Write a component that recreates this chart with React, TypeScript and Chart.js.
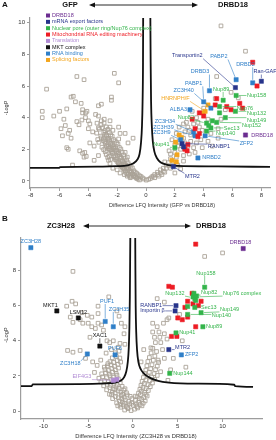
import { useEffect, useRef } from "react";
import { Chart, registerables } from "chart.js";

Chart.register(...registerables);

type Pt = [number, number];
// [text, x, y, align, category, pointX, pointY]
type Note = [string, number, number, "left" | "center" | "right", number, number?, number?];

const SANS = '"Liberation Sans", Arial, Helvetica, sans-serif';

// ---- categories ----
const categoryNames = [
  "DRBD18",
  "mRNA export factors",
  "Nuclear pore (outer ring/Nup76 complex)",
  "Mitochondrial RNA editing machinery",
  "Translation",
  "MKT complex",
  "RNA binding",
  "Splicing factors",
];
const categoryColors = ["#6b2d90", "#27348b", "#33b44a", "#ed1c24", "#b08ad4", "#111111", "#2f7fc8", "#f3a51c"];
const DRBD = 0, EXPORT = 1, PORE = 2, MITO = 3, TRANSL = 4, MKT = 5, RNA = 6, SPLICE = 7;
const GRAY = "#aaa397";
const AXIS = "#9d9d9d";

// ---- panel A: GFP vs DRBD18 ----
const aXTicks = [-8, -6, -4, -2, 0, 2, 4, 6, 8];
const aYTicks = [0, 2, 4, 6, 8, 10];

const aGray: Pt[] = [
  [-4.8, 6.6], [-4.3, 6.4], [-6.9, 5.8], [-2.2, 6.8], [-1.9, 6.2], [-5.2, 5.3], [-5.05, 5.35], [-4.9, 5.0],
  [-4.5, 4.9], [-2.4, 5.3], [-2.4, 5.1], [-3.3, 4.75], [-3.1, 4.85], [-5.5, 4.55], [-7.2, 4.4], [-7.2, 4.0],
  [-6.0, 4.4], [-6.4, 4.1], [-5.7, 3.9], [-5.6, 3.5], [-5.9, 3.3], [-5.3, 3.2], [-5.8, 2.85], [-5.4, 3.0],
  [-5.2, 2.7], [-5.4, 2.0], [-5.5, 2.1], [-5.1, 1.0], [-4.8, 3.75], [-4.65, 3.55], [-4.45, 3.85], [-4.4, 4.3],
  [-4.1, 4.4], [-4.4, 4.5], [-4.2, 4.3], [-4.2, 4.0], [-4.0, 3.8], [-3.9, 3.6], [-4.0, 3.3], [-4.6, 1.9],
  [-4.25, 1.8], [-4.4, 1.75], [-4.3, 1.5], [-4.15, 1.55], [-3.5, 4.2], [-3.4, 3.65], [-3.3, 3.35], [-3.7, 3.1],
  [-3.3, 4.1], [-2.9, 3.9], [-3.1, 3.8], [-2.5, 3.8], [-2.5, 3.4], [-2.3, 3.2], [-1.9, 3.4], [-1.8, 3.0],
  [-1.45, 3.0], [-1.25, 2.4], [-1.9, 2.65], [-0.9, 2.7], [-1.45, 1.8], [-1.3, 1.5], [-3.6, 1.3], [-3.3, 1.6],
  [-3.9, 2.4], [-3.6, 2.2],
  [-3.42, 3.02], [-3.35, 2.61], [-3.23, 3.27], [-3.14, 2.83], [-3.27, 2.44], [-3.12, 3.55], [-3.05, 3.36],
  [-2.93, 3.07], [-3.09, 2.72], [-2.97, 2.55], [-3.06, 2.13], [-2.91, 3.66], [-2.85, 3.17], [-2.95, 2.66],
  [-2.83, 2.37], [-2.94, 1.98], [-2.76, 3.41], [-2.84, 2.96], [-2.73, 2.83], [-2.87, 2.49], [-2.74, 2.18],
  [-2.83, 1.84], [-2.65, 3.25], [-2.75, 2.9], [-2.62, 2.65], [-2.73, 2.26], [-2.61, 2.05], [-2.76, 1.67],
  [-2.55, 3.06], [-2.64, 2.69], [-2.53, 2.51], [-2.63, 2.16], [-2.51, 1.95], [-2.66, 1.48], [-2.45, 2.91],
  [-2.55, 2.58], [-2.43, 2.36], [-2.54, 2.05], [-2.42, 1.85], [-2.56, 1.55], [-2.35, 2.82], [-2.45, 2.39],
  [-2.33, 2.22], [-2.44, 1.95], [-2.32, 1.74], [-2.46, 1.36], [-2.25, 2.61], [-2.35, 2.28], [-2.23, 2.06],
  [-2.34, 1.76], [-2.22, 1.52], [-2.15, 2.52], [-2.25, 2.15], [-2.13, 1.94], [-2.24, 1.59], [-2.12, 1.34],
  [-2.05, 2.41], [-2.15, 2.08], [-2.03, 1.85], [-2.14, 1.46], [-2.02, 1.24], [-1.95, 2.32], [-2.05, 1.95],
  [-1.93, 1.75], [-2.04, 1.38], [-1.92, 1.15], [-1.85, 2.11], [-1.95, 1.78], [-1.83, 1.55], [-1.94, 1.16],
  [-1.82, 1.01], [-1.75, 2.01], [-1.85, 1.66], [-1.73, 1.44], [-1.84, 1.09], [-1.72, 0.94], [-1.65, 1.82],
  [-1.75, 1.49], [-1.63, 1.24], [-1.74, 0.96], [-1.62, 0.82], [-1.55, 1.64], [-1.65, 1.28], [-1.53, 1.12],
  [-1.64, 0.88], [-1.52, 0.72], [-1.45, 1.45], [-1.55, 1.16], [-1.43, 1.01], [-1.54, 0.78], [-1.42, 0.64],
  [-1.35, 1.32], [-1.45, 0.99], [-1.33, 0.82], [-1.44, 0.56], [-1.25, 1.15], [-1.35, 0.85], [-1.23, 0.74],
  [-1.34, 0.46], [-1.15, 1.01], [-1.25, 0.78], [-1.13, 0.62], [-1.24, 0.41], [-1.05, 0.94], [-1.15, 0.66],
  [-1.03, 0.54], [-1.14, 0.31], [-0.95, 0.82], [-1.05, 0.58], [-0.93, 0.44], [-1.04, 0.25], [-0.85, 0.64],
  [-0.95, 0.41], [-0.83, 0.34], [-0.75, 0.55], [-0.85, 0.31], [-0.73, 0.24], [-0.65, 0.47], [-0.75, 0.26],
  [-0.63, 0.19], [-0.55, 0.39], [-0.65, 0.16], [-0.45, 0.32], [-0.55, 0.11], [-0.35, 0.27], [-0.45, 0.06],
  [-0.25, 0.19], [-0.15, 0.12], [0.02, 0.05], [0.18, 0.1],
  [-2.3, 0.8], [-2.0, 0.7], [-1.8, 0.5], [-1.5, 0.4], [-2.5, 1.1], [-2.6, 1.3], [-1.3, 0.3], [-1.1, 0.2],
  [0.3, 0.15], [0.4, 0.25], [0.5, 0.3], [0.6, 0.2], [0.6, 0.4], [0.8, 0.4], [0.8, 0.55], [1.0, 0.5],
  [1.0, 0.7], [1.2, 0.6], [1.2, 0.8], [1.4, 0.8], [1.6, 0.95], [0.9, 0.3], [1.1, 0.4], [1.3, 0.55],
  [1.4, 1.0], [1.7, 0.8], [2.1, 1.05], [1.55, 1.15], [2.4, 0.75], [2.0, 0.5],
  [1.3, 1.2], [1.7, 1.4], [2.0, 1.8], [2.2, 2.2], [2.6, 2.7], [3.0, 3.2], [3.3, 3.6], [3.5, 4.0], [2.8, 3.7],
  [4.0, 4.6], [4.5, 3.0], [5.0, 3.3], [3.4, 1.8], [2.2, 1.0], [2.6, 1.25], [1.9, 1.2], [2.1, 1.5], [2.4, 2.0],
  [3.1, 2.5], [3.8, 2.6], [2.9, 2.2], [3.7, 3.4], [3.2, 4.4], [2.7, 3.1], [1.6, 1.9], [2.3, 2.5],
  [1.8, 2.6], [2.1, 3.0], [2.3, 3.4], [2.6, 3.6], [2.9, 3.4], [3.1, 2.9], [3.5, 2.4], [3.9, 2.1], [2.6, 1.6],
  [3.0, 1.7], [3.3, 2.1], [2.7, 2.4], [1.7, 1.7], [2.0, 2.3], [3.6, 3.7], [3.9, 3.2], [4.3, 2.5], [4.6, 2.2],
  [5.0, 2.7], [4.9, 6.6], [5.2, 9.8], [6.9, 8.2], [5.9, 5.6], [6.4, 5.25], [4.8, 5.2], [5.5, 4.5], [5.2, 3.9],
  [4.3, 3.9],
];

const aDrbd18: Pt[] = [[6.9, 2.9]];
const aExport: Pt[] = [[8.0, 6.3], [6.2, 5.9], [2.5, 2.35], [2.6, 2.15], [1.9, 0.9]];
const aPore: Pt[] = [
  [5.35, 5.1], [6.25, 5.4], [5.1, 4.7], [6.2, 4.4], [5.5, 4.0], [4.9, 3.7], [4.5, 3.35], [4.2, 3.15],
  [4.2, 3.65], [4.35, 3.5], [2.0, 2.1], [5.1, 4.3], [4.6, 3.8],
];
const aMito: Pt[] = [
  [7.4, 7.5], [7.7, 6.0], [4.9, 5.2], [6.5, 4.9], [4.8, 4.8], [3.7, 4.3], [3.7, 3.0], [3.6, 2.8], [2.85, 1.9],
  [2.7, 2.0], [5.9, 4.5], [6.7, 4.6], [5.6, 4.7], [3.2, 3.9], [4.0, 4.1], [3.4, 3.3], [2.9, 2.3],
];
const aRnaBinding: Pt[] = [
  [7.4, 6.2], [6.25, 6.4], [4.4, 5.7], [4.0, 5.0], [4.5, 4.6], [3.05, 4.5], [3.3, 3.1], [3.4, 2.85],
  [2.4, 2.6], [4.1, 2.85], [3.6, 1.45],
];
const aSplicing: Pt[] = [
  [4.1, 4.4], [3.95, 4.3], [4.3, 4.8], [2.3, 2.9], [2.45, 2.75], [2.15, 1.65], [2.1, 1.2], [2.05, 2.45], [1.8, 1.3],
];

const aLeftCurve: Pt[] = [
  [-8.05, 0.82], [-6.05, 0.82], [-5.95, 0.87], [-3, 0.9], [-2, 0.93], [-1.3, 0.98], [-0.9, 1.1], [-0.6, 1.35],
  [-0.45, 1.7], [-0.35, 2.4], [-0.28, 3.5], [-0.24, 5], [-0.21, 7.5], [-0.2, 10.3],
];
const aRightCurve: Pt[] = [
  [0.3, 10.3], [0.32, 7.5], [0.35, 5], [0.4, 3.5], [0.47, 2.5], [0.58, 1.85], [0.75, 1.45], [1.0, 1.18],
  [1.4, 1.03], [2.2, 0.95], [5, 0.92], [8.6, 0.88],
];

const aNotes: Note[] = [
  ["Transportin2", 1.8, 7.9, "left", EXPORT, 6.2, 5.9],
  ["PABP2", 4.45, 7.85, "left", RNA, 6.25, 6.4],
  ["DRBD2", 6.25, 7.35, "left", RNA, 7.4, 6.2],
  ["Ran-GAP", 7.45, 6.9, "left", EXPORT, 8.0, 6.3],
  ["DRBD3", 3.1, 6.9, "left", RNA, 4.4, 5.7],
  ["PABP1", 2.7, 6.15, "left", RNA, 4.0, 5.0],
  ["Nup89", 4.65, 5.8, "left", PORE, 5.35, 5.1],
  ["ZC3H40", 1.9, 5.7, "left", RNA, 4.5, 4.6],
  ["Nup158", 7.0, 5.4, "left", PORE, 6.25, 5.4],
  ["HNRNPH/F", 1.05, 5.2, "left", SPLICE, 4.1, 4.4],
  ["ALBA3", 1.65, 4.5, "left", RNA],
  ["Nup82", 2.2, 4.0, "left", PORE, 4.2, 3.65],
  ["Nup76", 6.3, 4.6, "left", PORE, 5.1, 4.7],
  ["Nup132", 7.0, 4.25, "left", PORE, 6.2, 4.4],
  ["Nup149", 7.0, 3.85, "left", PORE, 5.5, 4.0],
  ["Nup152", 6.65, 3.5, "left", PORE, 4.9, 3.7],
  ["Sec13", 5.4, 3.3, "left", PORE, 4.5, 3.35],
  ["Nup140", 4.85, 3.0, "left", PORE, 4.2, 3.15],
  ["DRBD18", 7.3, 2.9, "left", DRBD],
  ["ZC3H34", 0.6, 3.75, "left", RNA, 3.3, 3.1],
  ["ZC3H39", 0.5, 3.4, "left", RNA, 3.4, 2.85],
  ["ZC3H9", 0.5, 3.05, "left", RNA, 2.4, 2.6],
  ["ZFP2", 6.5, 2.35, "left", RNA, 4.1, 2.85],
  ["RANBP1", 4.3, 2.15, "left", EXPORT, 2.5, 2.35],
  ["Nup41", 0.5, 2.3, "left", PORE, 2.0, 2.1],
  ["NRBD2", 3.9, 1.45, "left", RNA],
  ["MTR2", 2.7, 0.3, "left", EXPORT, 1.9, 0.9],
];

// ---- panel B: ZC3H28 vs DRBD18 ----
const bXTicks = [-10, -5, 0, 5, 10];
const bYTicks = [0, 2, 4, 6, 8];

const bGray: Pt[] = [
  // scattered on the ZC3H28 side
  [-6.7, 7.95], [-6.8, 6.25], [-6.4, 6.1], [-7.4, 5.97], [-3.9, 5.97], [-2.7, 6.5], [-1.8, 5.7], [-5.7, 5.6],
  [-5.1, 5.45], [-4.6, 5.35], [-3.9, 5.55], [-7.0, 5.35], [-6.7, 5.05], [-5.9, 5.2], [-5.6, 5.0], [-5.0, 5.0],
  [-4.6, 4.8], [-4.2, 4.7], [-3.9, 5.0], [-3.5, 4.9], [-3.3, 4.6], [-2.9, 4.0], [-2.6, 3.9], [-2.2, 4.0],
  [-1.45, 3.85], [-4.8, 4.2], [-6.7, 3.35], [-5.9, 3.45], [-7.3, 3.45], [-1.55, 5.4], [-1.3, 5.0], [-1.0, 4.4],
  [-0.9, 3.8], [-0.9, 4.8], [-4.5, 2.8], [-4.0, 2.6], [-3.6, 2.9], [-3.2, 2.5], [-2.8, 2.7], [-4.3, 2.2],
  [-5.3, 3.0], [-2.4, 3.5], [-3.0, 3.3],
  // central cloud
  [-0.93, 0.06], [-0.55, 0.14], [-0.21, 0.03], [0.17, 0.11], [0.52, 0.18], [-1.37, 0.22], [-1.08, 0.35],
  [-0.74, 0.27], [-0.38, 0.41], [0.04, 0.33], [0.43, 0.26], [0.81, 0.38], [1.14, 0.45], [-1.82, 0.47],
  [-1.51, 0.58], [-1.19, 0.52], [-0.86, 0.63], [-0.47, 0.55], [-0.12, 0.71], [0.29, 0.62], [0.63, 0.51],
  [0.97, 0.66], [1.36, 0.58], [-2.27, 0.71], [-1.96, 0.83], [-1.63, 0.76], [-1.31, 0.89], [-0.98, 0.79],
  [-0.64, 0.92], [-0.31, 0.84], [0.46, 0.81], [0.83, 0.93], [1.21, 0.77], [1.58, 0.86],
  [-2.62, 0.96], [-2.31, 1.08], [-1.98, 1.02], [-1.67, 1.15], [-1.35, 1.07], [-1.02, 1.19], [-0.73, 1.04],
  [0.62, 1.02], [0.94, 1.13], [1.29, 1.06], [1.71, 1.17], [-2.94, 1.21], [-2.59, 1.33], [-2.23, 1.26],
  [-1.89, 1.38], [-1.54, 1.29], [-1.21, 1.41], [-0.89, 1.27], [0.77, 1.24], [1.12, 1.36], [1.47, 1.28],
  [1.93, 1.39], [-3.27, 1.44], [-2.88, 1.52], [-2.51, 1.47], [-2.14, 1.58], [-1.76, 1.49], [-1.42, 1.61],
  [0.89, 1.46], [1.26, 1.57], [1.68, 1.5], [2.17, 1.6],
  [-3.58, 1.66], [-3.16, 1.73], [-2.77, 1.68], [-2.39, 1.79], [-2.02, 1.71], [-1.63, 1.83], [1.02, 1.69],
  [1.44, 1.77], [1.87, 1.72], [2.41, 1.81], [-3.81, 1.87], [-3.37, 1.95], [-2.95, 1.9], [-2.56, 2.01],
  [-2.18, 1.93], [-1.79, 2.04], [1.16, 1.91], [1.63, 1.99], [2.09, 1.94], [2.71, 2.03], [-3.49, 2.12],
  [-3.04, 2.18], [-2.67, 2.11], [-2.27, 2.23], [-1.88, 2.15], [1.31, 2.14], [1.82, 2.21], [2.36, 2.13],
  [3.08, 2.24], [-3.12, 2.36], [-2.74, 2.31], [-2.36, 2.42], [-1.97, 2.34], [-1.61, 2.45], [1.43, 2.33],
  [1.97, 2.41], [2.52, 2.36],
  [-2.86, 2.57], [-2.44, 2.63], [-2.06, 2.55], [-1.68, 2.66], [1.55, 2.58], [2.12, 2.64], [2.71, 2.56],
  [-2.57, 2.81], [-2.15, 2.77], [-1.76, 2.88], [-1.38, 2.79], [1.66, 2.82], [2.27, 2.89], [2.86, 2.78],
  [-2.31, 3.03], [-1.86, 3.11], [-1.47, 3.02], [1.83, 3.05], [2.44, 3.13], [-1.97, 3.32], [-1.56, 3.41],
  [2.02, 3.31], [2.63, 3.39], [-1.66, 3.63], [2.21, 3.57],
  [-1.45, 0.35], [-0.15, 0.45], [0.25, 0.85], [-2.05, 1.25], [-1.25, 0.7], [0.7, 0.7], [-0.6, 0.2], [1.0, 0.3],
  [-1.7, 0.3], [-0.95, 0.45], [0.35, 0.4], [-2.4, 0.95], [-1.15, 0.95], [1.45, 0.95],
  // scattered on the DRBD18 side
  [4.2, 2.35], [3.9, 1.75], [2.8, 2.9], [3.3, 3.5], [2.5, 3.9], [3.0, 4.2], [3.5, 4.4], [2.2, 4.5], [3.8, 4.1],
  [2.0, 3.6], [4.5, 3.0], [5.5, 4.0], [4.0, 5.3], [3.5, 6.2], [2.7, 6.4], [5.2, 5.5], [8.0, 8.8], [10.0, 9.0],
  [5.9, 2.5], [3.5, 3.0], [1.2, 3.5], [0.9, 2.8], [2.2, 5.0], [2.7, 4.8], [3.4, 5.0], [3.8, 5.2], [2.9, 4.5],
  [2.4, 4.2], [3.1, 3.9],
];

const bDrbd18: Pt[] = [[12.3, 9.25]];
const bExport: Pt[] = [[4.8, 6.0], [4.7, 5.7], [4.0, 3.5]];
const bPore: Pt[] = [
  [8.0, 7.05], [6.7, 6.5], [6.9, 6.4], [7.1, 6.55], [6.8, 6.7], [7.0, 6.3], [6.9, 5.9], [6.1, 5.95],
  [7.6, 5.6], [6.1, 5.5], [7.8, 4.8], [4.8, 4.45], [4.1, 2.15],
];
const bMito: Pt[] = [
  [7.0, 9.5], [4.0, 7.1], [4.4, 7.05], [6.6, 6.7], [6.1, 6.25], [7.6, 6.25], [6.7, 6.1], [5.0, 5.3], [5.5, 5.2],
  [6.1, 5.35], [7.0, 4.8], [4.3, 4.25], [4.9, 4.25], [5.8, 5.9], [7.3, 6.0],
];
const bTranslation: Pt[] = [[-1.8, 1.8], [-2.2, 1.75]];
const bMkt: Pt[] = [[-8.5, 5.7], [-6.1, 5.3], [-3.7, 3.7]];
const bRnaBinding: Pt[] = [[-11.4, 9.3], [-3.1, 5.1], [-2.2, 4.8], [-2.0, 3.2], [-5.1, 3.25], [5.4, 3.2]];

const bLeftCurve: Pt[] = [
  [-12.5, 1.42], [-11.3, 1.42], [-11.2, 1.52], [-6, 1.54], [-3, 1.58], [-2, 1.62], [-1.4, 1.72], [-1.0, 1.92],
  [-0.75, 2.25], [-0.58, 2.8], [-0.47, 3.6], [-0.4, 4.8], [-0.35, 6.5], [-0.32, 8.5], [-0.3, 9.85],
];
const bRightCurve: Pt[] = [
  [0.25, 9.85], [0.27, 8], [0.3, 6], [0.36, 4.5], [0.45, 3.5], [0.6, 2.8], [0.85, 2.4], [1.2, 2.15],
  [1.8, 1.92], [2.8, 1.72], [4, 1.62], [7, 1.56], [11.3, 1.5], [11.4, 1.42], [13.4, 1.38],
];

const bNotes: Note[] = [
  ["ZC3H28", -11.4, 9.65, "center", RNA],
  ["DRBD18", 12.0, 9.6, "center", DRBD],
  ["Nup158", 8.15, 7.85, "center", PORE, 8.0, 7.05],
  ["Nup82", 7.6, 6.75, "left", PORE, 7.0, 6.6],
  ["Nup76 complex", 10.05, 6.7, "left", PORE, 7.1, 6.5],
  ["Nup132", 3.6, 6.7, "left", PORE, 6.7, 6.45],
  ["RANBP1", 0.8, 6.0, "left", EXPORT, 4.8, 6.0],
  ["Importin β", 0.8, 5.7, "left", EXPORT, 4.7, 5.7],
  ["Sec13", 7.6, 5.9, "left", PORE, 6.9, 5.9],
  ["Nup149", 9.7, 5.8, "left", PORE, 7.6, 5.6],
  ["Nup140", 8.8, 5.45, "left", PORE, 6.1, 5.5],
  ["Nup89", 8.15, 4.8, "left", PORE],
  ["Nup41", 5.15, 4.45, "left", PORE],
  ["MTR2", 4.7, 3.6, "left", EXPORT, 4.0, 3.5],
  ["ZFP2", 5.8, 3.2, "left", RNA],
  ["Nup144", 4.5, 2.15, "left", PORE],
  ["MKT1", -8.4, 6.0, "right", MKT],
  ["LSM12", -6.1, 5.6, "center", MKT],
  ["PUF1", -2.9, 6.25, "center", RNA, -3.1, 5.1],
  ["ZC3H35", -1.55, 5.8, "center", RNA, -2.2, 4.8],
  ["XAC1", -3.7, 4.3, "center", MKT, -3.7, 3.7],
  ["PUF6", -2.0, 3.55, "center", RNA],
  ["ZC3H18", -7.0, 2.7, "center", RNA, -5.1, 3.25],
  ["EIF4G3", -5.7, 1.95, "center", TRANSL, -2.2, 1.75],
];

type Panel = {
  height: number;
  letter: string;
  leftName: string;
  rightName: string;
  xTitle: string;
  xRange: Pt;
  yRange: Pt;
  xTicks: number[];
  yTicks: number[];
  yAxisWidth: number;
  xAxisHeight: number;
  padTop: number;
  padRight: number;
  gray: Pt[];
  groups: [number, Pt[]][];
  curves: Pt[][];
  notes: Note[];
  legendX: number | null;
  headY: number;
  letterY: number;
  leftNameX: number;
  rightNameX: number;
  arrowFrom: number;
  arrowTo: number;
  yTitleY: number;
  xTitleX: number;
  xTitleY: number;
  noteFont: number;
  titleFont: number;
};

const panelA: Panel = {
  height: 213,
  letter: "A",
  leftName: "GFP",
  rightName: "DRBD18",
  xTitle: "Difference LFQ Intensity (GFP vs DRBD18)",
  xRange: [-8.05, 8.6],
  yRange: [-0.45, 10.3],
  xTicks: aXTicks,
  yTicks: aYTicks,
  yAxisWidth: 30,
  xAxisHeight: 25,
  padTop: 18,
  padRight: 6,
  gray: aGray,
  groups: [
    [DRBD, aDrbd18], [EXPORT, aExport], [PORE, aPore], [MITO, aMito], [RNA, aRnaBinding], [SPLICE, aSplicing],
  ],
  curves: [aLeftCurve, aRightCurve],
  notes: aNotes,
  legendX: 46,
  headY: 5,
  letterY: 5,
  leftNameX: 70,
  rightNameX: 233,
  arrowFrom: 89,
  arrowTo: 198,
  yTitleY: 108,
  xTitleX: 162,
  xTitleY: 205,
  noteFont: 5.5,
  titleFont: 5.5,
};

const panelB: Panel = {
  height: 227,
  letter: "B",
  leftName: "ZC3H28",
  rightName: "DRBD18",
  xTitle: "Difference LFQ Intensity (ZC3H28 vs DRBD18)",
  xRange: [-12.5, 14.4],
  yRange: [-0.45, 9.85],
  xTicks: bXTicks,
  yTicks: bYTicks,
  yAxisWidth: 21,
  xAxisHeight: 21,
  padTop: 25,
  padRight: 14,
  gray: bGray,
  groups: [
    [DRBD, bDrbd18], [EXPORT, bExport], [PORE, bPore], [MITO, bMito], [TRANSL, bTranslation], [MKT, bMkt],
    [RNA, bRnaBinding],
  ],
  curves: [bLeftCurve, bRightCurve],
  notes: bNotes,
  legendX: null,
  headY: 13,
  letterY: 6,
  leftNameX: 61,
  rightNameX: 211,
  arrowFrom: 83,
  arrowTo: 191,
  yTitleY: 122,
  xTitleX: 136,
  xTitleY: 223,
  noteFont: 5.5,
  titleFont: 5.8,
};

function arrowHead(ctx: CanvasRenderingContext2D, x: number, y: number, dir: number) {
  ctx.beginPath();
  ctx.moveTo(x, y);
  ctx.lineTo(x - dir * 6, y - 2.6);
  ctx.lineTo(x - dir * 6, y + 2.6);
  ctx.closePath();
  ctx.fill();
}

function decorations(p: Panel) {
  return {
    id: "decorations" + p.letter,
    afterDatasetsDraw(chart: any) {
      const { ctx } = chart;
      const xs = chart.scales.x;
      const ys = chart.scales.y;
      ctx.save();
      ctx.font = `${p.noteFont}px ${SANS}`;
      ctx.textBaseline = "middle";
      for (const [text, lx, ly, align, cat, tx, ty] of p.notes) {
        const color = categoryColors[cat];
        const px = xs.getPixelForValue(lx);
        const py = ys.getPixelForValue(ly);
        const w = ctx.measureText(text).width;
        const left = align === "left" ? px : align === "center" ? px - w / 2 : px - w;
        if (tx !== undefined && ty !== undefined) {
          const qx = xs.getPixelForValue(tx);
          const qy = ys.getPixelForValue(ty);
          const sx = Math.min(Math.max(qx, left - 0.5), left + w + 0.5);
          const sy = Math.min(Math.max(qy, py - p.noteFont / 2), py + p.noteFont / 2);
          const dx = qx - sx;
          const dy = qy - sy;
          const d = Math.hypot(dx, dy);
          if (d > 4) {
            ctx.strokeStyle = color;
            ctx.lineWidth = 0.6;
            ctx.beginPath();
            ctx.moveTo(sx, sy);
            ctx.lineTo(qx - (dx / d) * 3, qy - (dy / d) * 3);
            ctx.stroke();
          }
        }
        ctx.fillStyle = color;
        ctx.textAlign = align;
        ctx.fillText(text, px, py);
      }
      ctx.restore();
    },
    afterDraw(chart: any) {
      const { ctx, chartArea } = chart;
      ctx.save();
      ctx.fillStyle = "#111";
      ctx.textBaseline = "middle";

      ctx.font = `bold 8px ${SANS}`;
      ctx.textAlign = "left";
      ctx.fillText(p.letter, 2, p.letterY);

      ctx.font = `bold 7.5px ${SANS}`;
      ctx.textAlign = "center";
      ctx.fillText(p.leftName, p.leftNameX, p.headY);
      ctx.fillText(p.rightName, p.rightNameX, p.headY);

      ctx.strokeStyle = "#111";
      ctx.lineWidth = 0.9;
      ctx.beginPath();
      ctx.moveTo(p.arrowFrom + 4, p.headY);
      ctx.lineTo(p.arrowTo - 4, p.headY);
      ctx.stroke();
      arrowHead(ctx, p.arrowFrom, p.headY, -1);
      arrowHead(ctx, p.arrowTo, p.headY, 1);

      ctx.fillStyle = "#333";
      ctx.font = `${p.titleFont}px ${SANS}`;
      ctx.fillText(p.xTitle, p.xTitleX, p.xTitleY);
      ctx.save();
      ctx.translate(6, p.yTitleY);
      ctx.rotate(-Math.PI / 2);
      ctx.fillText("-LogP", 0, 0);
      ctx.restore();

      if (p.legendX !== null) {
        const lx = p.legendX;
        ctx.font = `5.5px ${SANS}`;
        ctx.textAlign = "left";
        categoryNames.forEach((name, i) => {
          const yy = chartArea.top - 2.5 + i * 6.35;
          ctx.fillStyle = categoryColors[i];
          ctx.fillRect(lx, yy - 2, 4, 4);
          ctx.fillText(name, lx + 6, yy);
        });
      }
      ctx.restore();
    },
  };
}

function buildConfig(p: Panel): any {
  const datasets: any[] = [];
  for (const [cat, pts] of p.groups) {
    datasets.push({
      label: categoryNames[cat],
      data: pts.map(([x, y]) => ({ x, y })),
      pointStyle: "rect",
      pointRadius: 3,
      backgroundColor: categoryColors[cat],
      borderColor: categoryColors[cat],
      borderWidth: 0.5,
      order: 0,
    });
  }
  for (const c of p.curves) {
    datasets.push({
      label: "threshold",
      data: c.map(([x, y]) => ({ x, y })),
      showLine: true,
      pointRadius: 0,
      borderColor: "#111",
      borderWidth: 1.8,
      cubicInterpolationMode: "monotone",
      order: 1,
    });
  }
  datasets.push({
    label: "other proteins",
    data: p.gray.map(([x, y]) => ({ x, y })),
    pointStyle: "rect",
    pointRadius: 2.6,
    backgroundColor: "rgba(255,255,255,0)",
    borderColor: GRAY,
    borderWidth: 0.9,
    order: 2,
  });

  const tickFont = { family: SANS, size: 6 };
  return {
    type: "scatter",
    data: { datasets },
    options: {
      animation: false,
      responsive: false,
      devicePixelRatio: 1,
      events: [],
      layout: { padding: { top: p.padTop, right: p.padRight, left: 0, bottom: 0 } },
      plugins: { legend: { display: false }, tooltip: { enabled: false } },
      scales: {
        x: {
          type: "linear",
          min: p.xRange[0],
          max: p.xRange[1],
          afterFit: (s: any) => {
            s.height = p.xAxisHeight;
          },
          afterBuildTicks: (s: any) => {
            s.ticks = p.xTicks.map((v) => ({ value: v }));
          },
          grid: { drawOnChartArea: false, drawTicks: true, tickLength: 3, color: AXIS, lineWidth: 1 },
          border: { color: AXIS, width: 1.2 },
          ticks: { font: tickFont, color: "#333", padding: 1, maxRotation: 0, autoSkip: false },
        },
        y: {
          type: "linear",
          min: p.yRange[0],
          max: p.yRange[1],
          afterFit: (s: any) => {
            s.width = p.yAxisWidth;
          },
          afterBuildTicks: (s: any) => {
            s.ticks = p.yTicks.map((v) => ({ value: v }));
          },
          grid: { drawOnChartArea: false, drawTicks: true, tickLength: 3, color: AXIS, lineWidth: 1 },
          border: { color: AXIS, width: 1.2 },
          ticks: { font: tickFont, color: "#333", padding: 2, autoSkip: false },
        },
      },
    },
    plugins: [decorations(p)],
  };
}

function VolcanoPanel({ panel }: { panel: Panel }) {
  const ref = useRef<HTMLCanvasElement | null>(null);
  useEffect(() => {
    if (!ref.current) return;
    const chart = new Chart(ref.current, buildConfig(panel));
    return () => chart.destroy();
  }, [panel]);
  return <canvas ref={ref} width={276} height={panel.height} style={{ display: "block" }} />;
}

export default function App() {
  return (
    <div style={{ position: "absolute", left: 0, top: 0, width: 276, height: 440, background: "#fff" }}>
      <VolcanoPanel panel={panelA} />
      <VolcanoPanel panel={panelB} />
    </div>
  );
}
